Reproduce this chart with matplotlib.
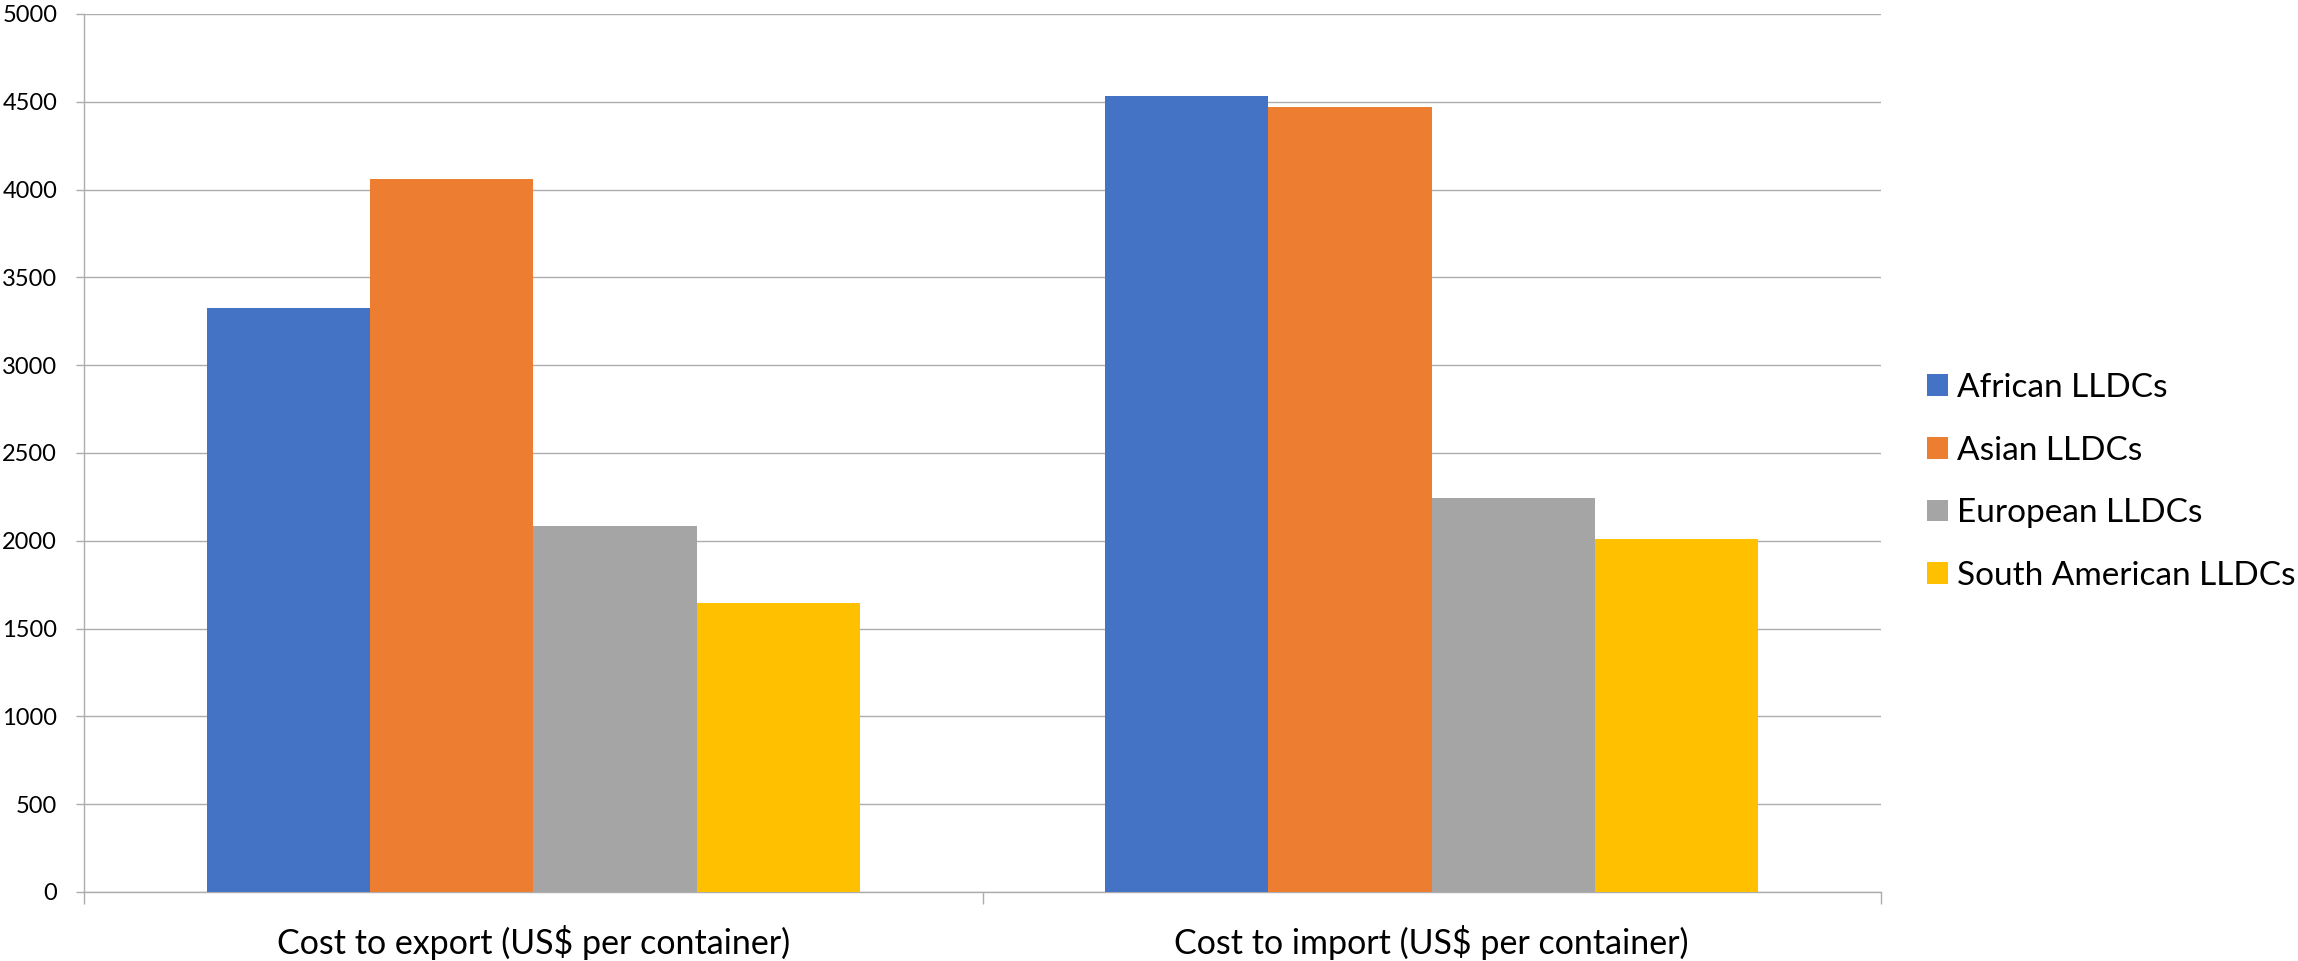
import numpy as np
import matplotlib
matplotlib.use("Agg")
import matplotlib.pyplot as plt
from matplotlib.transforms import blended_transform_factory

# data
categories = ["Cost to export (US$ per container)", "Cost to import (US$ per container)"]
series = ["African LLDCs", "Asian LLDCs", "European LLDCs", "South American LLDCs"]
african = [3325, 4534]
asian = [4061, 4471]
european = [2085, 2245]
south_american = [1643, 2008]
colors = ["#4472C4", "#ED7D31", "#A5A5A5", "#FFC000"]
yticks = [0, 500, 1000, 1500, 2000, 2500, 3000, 3500, 4000, 4500, 5000]

values = [african, asian, european, south_american]

plt.rcParams["font.family"] = ["Lato", "DejaVu Sans"]
grid_col = "#ADADAD"

fig = plt.figure(figsize=(22.98, 9.61), dpi=100)
ax = fig.add_axes([84 / 2298, 1 - 892 / 961, (1881 - 84) / 2298, (892 - 14) / 961])

x = np.arange(len(categories))
w = 0.1817
for i, (name, vals) in enumerate(zip(series, values)):
    ax.bar(x + (i - 1.5) * w, vals, width=w, color=colors[i], label=name,
           edgecolor="none", zorder=3)

ax.set_xlim(-0.5, len(categories) - 0.5)
ax.set_ylim(0, 5000)
ax.set_yticks(yticks)
ax.set_yticklabels([str(v) for v in yticks], fontsize=17)
ax.set_xticks(np.arange(-0.5, len(categories), 1.0))
ax.set_xticklabels([])
ax.tick_params(axis="y", length=5.8, width=1.0, color=grid_col, pad=13.5)
ax.tick_params(axis="x", length=8.6, width=1.0, color=grid_col)
ax.grid(axis="y", color=grid_col, linewidth=1.0, zorder=0)

for side in ["top", "right"]:
    ax.spines[side].set_visible(False)
for side in ["left", "bottom"]:
    ax.spines[side].set_color(grid_col)
    ax.spines[side].set_linewidth(1.0)

# category names under each group
trans = blended_transform_factory(ax.transData, ax.transAxes)
for xi, cat in zip(x, categories):
    ax.text(xi, -62 / 878, cat, transform=trans, ha="center", va="baseline",
            fontsize=24.5, color="black")

fig.legend(loc="center left", bbox_to_anchor=(1927 / 2298, 1 - 482 / 961),
           frameon=False, fontsize=24, borderpad=0, borderaxespad=0,
           handlelength=0.62, handleheight=0.62, handletextpad=0.28,
           labelspacing=0.98)

fig.savefig("out.png", dpi=100, facecolor="white")
